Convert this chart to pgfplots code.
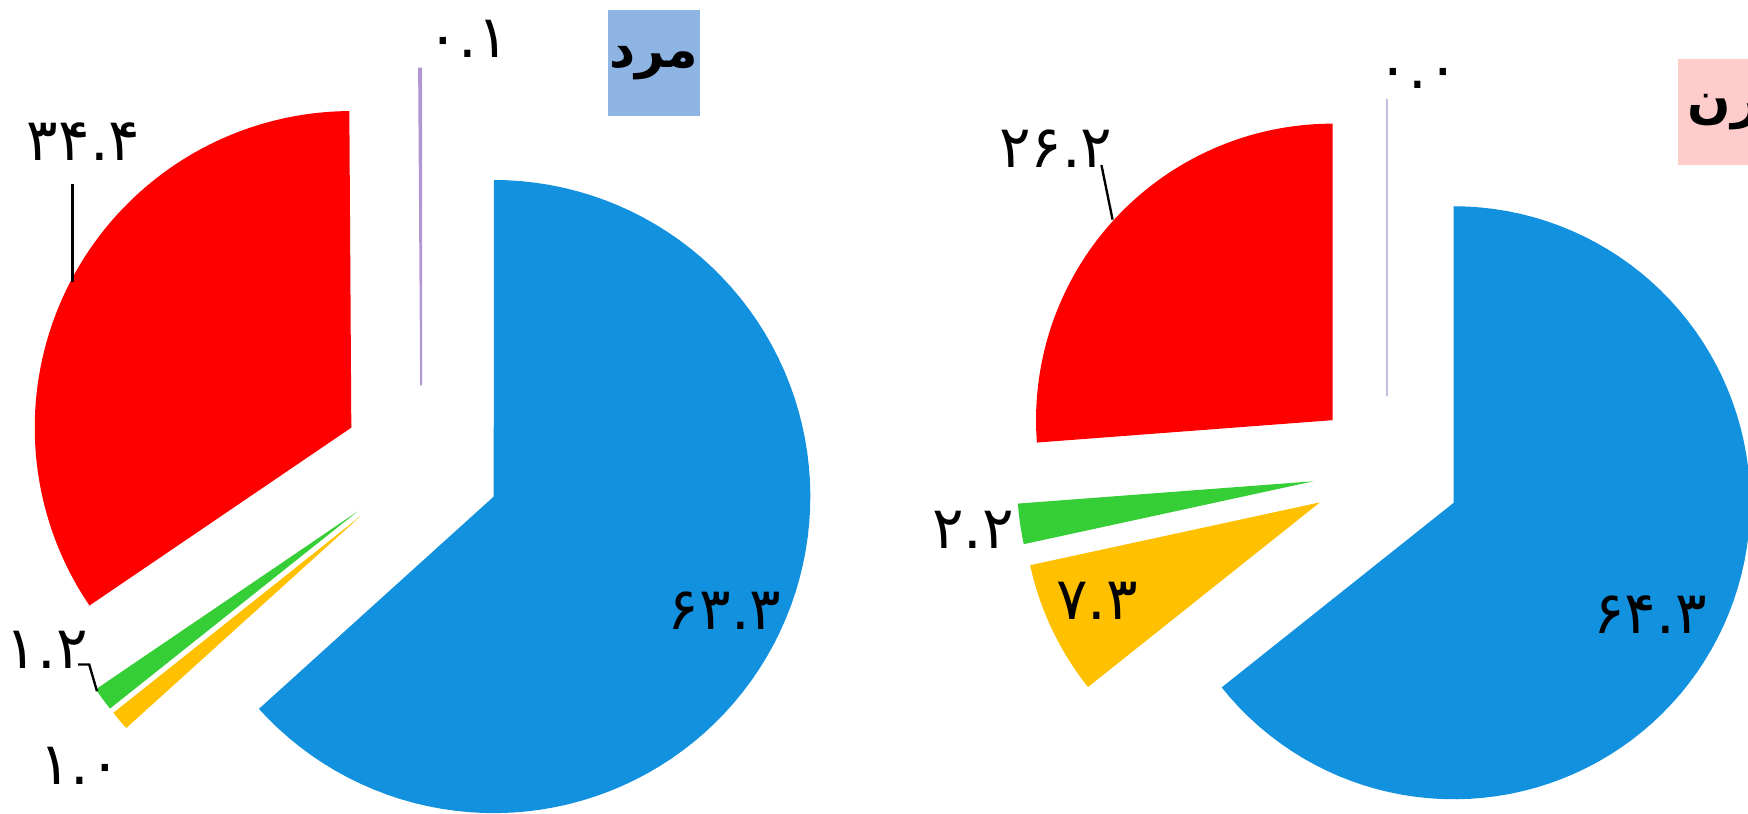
\documentclass[border=0pt]{standalone}
\usepackage{fontspec}
\usepackage{pgfplots}
\pgfplotsset{compat=1.18}
\TeXXeTstate=1
\newfontfamily\fa[Script=Arabic]{DejaVu Sans}

\definecolor{cblue}{RGB}{18,145,223}
\definecolor{cred}{RGB}{255,0,0}
\definecolor{cgreen}{RGB}{54,206,54}
\definecolor{cyellow}{RGB}{255,192,0}
\definecolor{cpurple}{RGB}{178,150,212}
\definecolor{cpurplelt}{RGB}{200,190,226}
\definecolor{boxblue}{RGB}{142,180,227}
\definecolor{boxpink}{RGB}{255,204,204}

% slice: cx, cy, radius, explode, start (%), value (%), style
\newcommand\slice[7]{%
  \pgfmathsetmacro\aS{90-3.6*(#5)+0.01}%
  \pgfmathsetmacro\aE{90-3.6*((#5)+(#6))}%
  \pgfmathsetmacro\aM{(\aS+\aE)/2}%
  \pgfmathsetmacro\ox{#1+#4*cos(\aM)}%
  \pgfmathsetmacro\oy{#2+#4*sin(\aM)}%
  \edef\tmp{\noexpand\addplot[#7, domain=\aE:\aS, samples=90]
    ({\ox+#3*cos(x)},{\oy+#3*sin(x)}) -- (axis cs:\ox,\oy) -- cycle;}%
  \tmp
}

\begin{document}
\begin{tikzpicture}
\begin{axis}[
  width=15.68cm, height=7.30cm, scale only axis,
  hide axis, xmin=0, xmax=1568, ymin=0, ymax=730,
  clip=true,
]
% men
\slice{378}{313.4}{284}{71}{0}{63.3}{fill=cblue, draw=none}
\slice{378}{313.4}{284}{71}{63.3}{1.0}{fill=cyellow, draw=none}
\slice{378}{313.4}{284}{71}{64.3}{1.2}{fill=cgreen, draw=none}
\slice{378}{313.4}{284}{71}{65.5}{34.4}{fill=cred, draw=none}
\slice{378}{313.4}{284}{71}{99.9}{0.1}{fill=cpurple, draw=cpurple, line width=0.5pt}
% women
\slice{1244.1}{307.9}{266}{66.5}{0}{64.3}{fill=cblue, draw=none}
\slice{1244.1}{307.9}{266}{66.5}{64.3}{7.3}{fill=cyellow, draw=none}
\slice{1244.1}{307.9}{266}{66.5}{71.6}{2.2}{fill=cgreen, draw=none}
\slice{1244.1}{307.9}{266}{66.5}{73.8}{26.2}{fill=cred, draw=none}
\slice{1244.1}{307.9}{266}{66.5}{100}{0.0}{fill=cpurplelt, draw=cpurplelt, line width=0.5pt}

% leader lines
\draw[black, line width=0.6pt] (axis cs:65,565) -- (axis cs:65,477);
\draw[black, line width=0.6pt] (axis cs:70,134) -- (axis cs:80,134) -- (axis cs:87,110);
\draw[black, line width=0.6pt] (axis cs:988,582) -- (axis cs:998,533);

% value labels
\tikzset{lab/.style={font=\fa\fontsize{15}{17}\selectfont, text=black, inner sep=0pt}}
\node[lab] at (axis cs:650,182) {۶۳.۳};
\node[lab] at (axis cs:75,603) {۳۴.۴};
\node[lab] at (axis cs:42,147) {۱.۲};
\node[lab] at (axis cs:72,43) {۱.۰};
\node[lab] at (axis cs:420,695) {۰.۱};
\node[lab] at (axis cs:1480,179) {۶۴.۳};
\node[lab] at (axis cs:947,597) {۲۶.۲};
\node[lab] at (axis cs:873,255) {۲.۲};
\node[lab] at (axis cs:984,191) {۷.۳};
\node[lab] at (axis cs:1272,660) {۰.۰};

% titles
\node[fill=boxblue, minimum width=8.3mm, minimum height=9.5mm, inner sep=0pt,
  font=\fa\bfseries\fontsize{13}{15}\selectfont] at (axis cs:586.5,673.5) {\beginR مرد\endR};
\node[fill=boxpink, minimum width=8.3mm, minimum height=9.5mm, inner sep=0pt,
  font=\fa\bfseries\fontsize{13}{15}\selectfont] at (axis cs:1546.5,629.5) {\beginR زن\endR};
\end{axis}
\pgfresetboundingbox
\useasboundingbox (0,0) rectangle (15.68cm,7.30cm);
\end{tikzpicture}
\end{document}
